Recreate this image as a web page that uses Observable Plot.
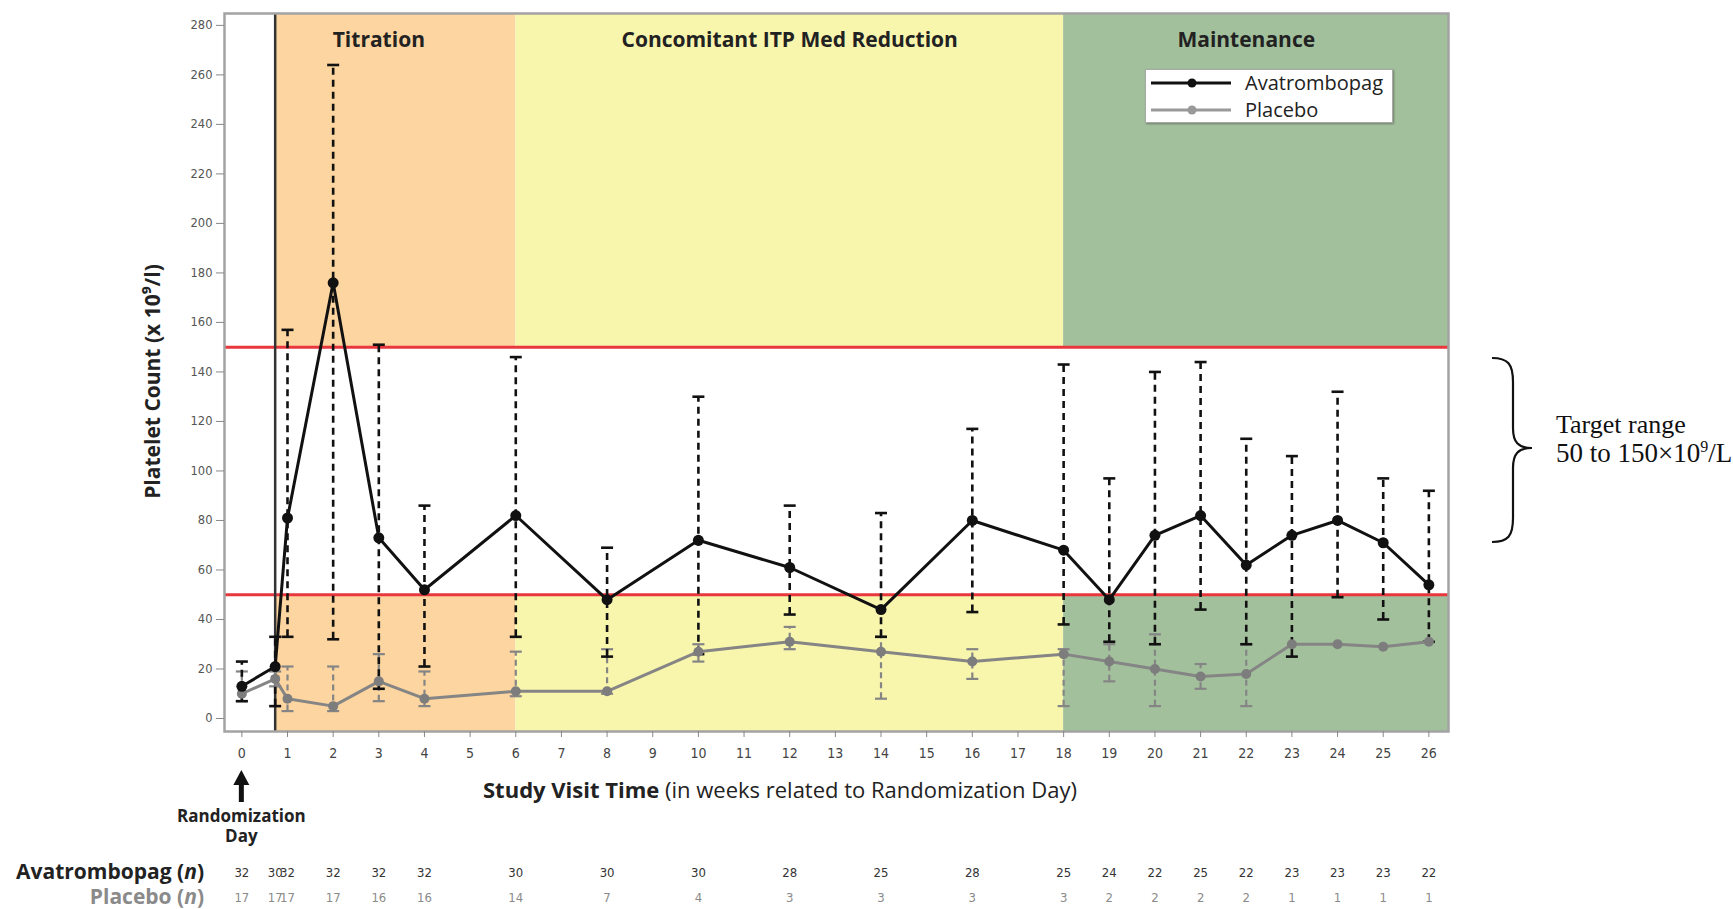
<!DOCTYPE html>
<html>
<head>
<meta charset="utf-8">
<script src="https://cdn.jsdelivr.net/npm/d3@7"></script>
<script src="https://cdn.jsdelivr.net/npm/@observablehq/plot@0.6"></script>
<style>
  body { margin: 0; background: #fff; }
  #wrap { position: relative; width: 1733px; height: 909px; overflow: hidden; font-family: "Open Sans", sans-serif; }
  #wrap > svg { position: absolute; left: 0; top: 0; }
  .abs { position: absolute; white-space: nowrap; }
</style>
</head>
<body>
<div id="wrap"></div>
<script>
// ---- data ----
const weeks      = [0, 0.73, 1, 2, 3, 4, 6, 8, 10, 12, 14, 16, 18, 19, 20, 21, 22, 23, 24, 25, 26];
const avaMedian  = [13, 21, 81, 176, 73, 52, 82, 48, 72, 61, 44, 80, 68, 48, 74, 82, 62, 74, 80, 71, 54];
const avaUpper   = [23, 33, 157, 264, 151, 86, 146, 69, 130, 86, 83, 117, 143, 97, 140, 144, 113, 106, 132, 97, 92];
const avaLower   = [7, 5, 33, 32, 12, 21, 33, 25, 26, 42, 33, 43, 38, 31, 30, 44, 30, 25, 49, 40, 31];
const plaMedian  = [10, 16, 8, 5, 15, 8, 11, 11, 27, 31, 27, 23, 26, 23, 20, 17, 18, 30, 30, 29, 31];
const plaUpper   = [19, 19, 21, 21, 26, 19, 27, 28, 30, 37, 33, 28, 28, 30, 34, 22, 30, 30, 30, 29, 31];
const plaLower   = [7, 13, 3, 3, 7, 5, 9, 10, 23, 28, 8, 16, 5, 15, 5, 12, 5, 30, 30, 29, 31];
const avaN       = [32, 30, 32, 32, 32, 32, 30, 30, 30, 28, 25, 28, 25, 24, 22, 25, 22, 23, 23, 23, 22];
const plaN       = [17, 17, 17, 17, 16, 16, 14, 7, 4, 3, 3, 3, 3, 2, 2, 2, 2, 1, 1, 1, 1];
const xTicks     = [0, 1, 2, 3, 4, 5, 6, 7, 8, 9, 10, 11, 12, 13, 14, 15, 16, 17, 18, 19, 20, 21, 22, 23, 24, 25, 26];
const yTicks     = [0, 20, 40, 60, 80, 100, 120, 140, 160, 180, 200, 220, 240, 260, 280];
const phaseNames  = ["Titration", "Concomitant ITP Med Reduction", "Maintenance"];
const phaseStart  = [0, 6, 18];
const phaseEnd    = [6, 18, 26];
const phaseColors = ["#fdd5a0", "#f8f5ad", "#a3c09c"];
const targetLow = 50, targetHigh = 150;
const seriesNames = ["Avatrombopag", "Placebo"];

// ---- scales / style ----
const xDomain = [-0.38, 26.43];
const yDomain = [-5.25, 284.8];
const avaColor = "#111111", plaColor = "#858585";

const ava = weeks.map((w, i) => ({week: w, median: avaMedian[i], upper: avaUpper[i], lower: avaLower[i], n: avaN[i]}));
const pla = weeks.map((w, i) => ({week: w, median: plaMedian[i], upper: plaUpper[i], lower: plaLower[i], n: plaN[i]}));
const capsOf = (t) => t.flatMap(d => d.upper > d.lower ? [{week: d.week, v: d.upper}, {week: d.week, v: d.lower}] : []);
const barsOf = (t) => t.filter(d => d.upper > d.lower);

const bands = phaseNames.flatMap((name, i) => {
  const x1 = i === 0 ? weeks[1] : phaseStart[i];
  const x2 = i === phaseNames.length - 1 ? xDomain[1] : phaseEnd[i];
  return [
    {x1, x2, y1: yDomain[0], y2: targetLow, fill: phaseColors[i]},
    {x1, x2, y1: targetHigh, y2: yDomain[1], fill: phaseColors[i]}
  ];
});
const phases = phaseNames.map((name, i) => ({name, mid: (phaseStart[i] + phaseEnd[i]) / 2}));

const capSymbol = {
  draw(context, size) {
    const r = Math.sqrt(size / Math.PI);
    context.moveTo(-r, 0);
    context.lineTo(r, 0);
  }
};

const nFont = "'DejaVu Sans Condensed', sans-serif";

const plot = Plot.plot({
  width: 1733,
  height: 909,
  marginLeft: 224,
  marginRight: 285,
  marginTop: 13,
  marginBottom: 178,
  x: {domain: xDomain},
  y: {domain: yDomain},
  color: {type: "identity"},
  style: {fontFamily: "'Open Sans', sans-serif", background: "transparent", overflow: "visible"},
  marks: [
    Plot.rect(bands, {x1: "x1", x2: "x2", y1: "y1", y2: "y2", fill: "fill"}),
    Plot.ruleY([targetLow, targetHigh], {stroke: "#e8373d", strokeWidth: 3}),
    Plot.ruleX([weeks[1]], {stroke: "#333", strokeWidth: 2.5}),
    // placebo error bars
    Plot.ruleX(barsOf(pla), {x: "week", y1: "lower", y2: "upper", stroke: plaColor, strokeWidth: 2.2, strokeDasharray: "6,4"}),
    Plot.dot(capsOf(pla), {x: "week", y: "v", symbol: capSymbol, r: 6, stroke: plaColor, strokeWidth: 2.2, fill: "none"}),
    // avatrombopag error bars
    Plot.ruleX(barsOf(ava), {x: "week", y1: "lower", y2: "upper", stroke: avaColor, strokeWidth: 2.6, strokeDasharray: "7,5"}),
    Plot.dot(capsOf(ava), {x: "week", y: "v", symbol: capSymbol, r: 6, stroke: avaColor, strokeWidth: 2.6, fill: "none"}),
    // lines and points
    Plot.line(pla, {x: "week", y: "median", stroke: plaColor, strokeWidth: 3}),
    Plot.dot(pla, {x: "week", y: "median", r: 5, fill: "#7d7d7d"}),
    Plot.line(ava, {x: "week", y: "median", stroke: avaColor, strokeWidth: 3}),
    Plot.dot(ava, {x: "week", y: "median", r: 5.5, fill: avaColor}),
    Plot.frame({stroke: "#a3a3a3", strokeWidth: 2.5}),
    // axes
    Plot.axisX(xTicks, {tickSize: 6, tickPadding: 11, fontSize: 14, fontFamily: nFont, fill: "#444", stroke: "#888", label: null, tickFormat: d => String(d)}),
    Plot.axisY(yTicks, {tickSize: 8, tickPadding: 4, fontSize: 11.5, fontFamily: "'DejaVu Sans', sans-serif", fill: "#555", stroke: "#888", label: null, tickFormat: d => String(d)}),
    // phase labels
    Plot.text(phases, {x: "mid", text: "name", frameAnchor: "top", dy: 19, fontSize: 21, fontWeight: "bold", fill: "#222"}),
    // y title
    Plot.text(["Platelet Count (x 10\u2079/l)"], {frameAnchor: "left", textAnchor: "middle", dx: -71, dy: 9, rotate: -90, fontSize: 21, fontWeight: "bold", fill: "#222"}),
    // n rows
    Plot.text(ava, {x: "week", text: d => String(d.n), frameAnchor: "bottom", dy: 145, fontSize: 13, fontFamily: nFont, fill: "#333", ariaLabel: "n-ava"}),
    Plot.text(pla, {x: "week", text: d => String(d.n), frameAnchor: "bottom", dy: 170, fontSize: 13, fontFamily: nFont, fill: "#8a8a8a", ariaLabel: "n-pla"})
  ]
});

// tighten the n digits so neighbouring counts (day 1 / week 1) do not collide
d3.select(plot).selectAll('g[aria-label="n-ava"] text, g[aria-label="n-pla"] text').style("letter-spacing", "-1px");

const wrap = document.getElementById("wrap");
wrap.appendChild(plot);
const sx = plot.scale("x");
const x0 = sx.apply(weeks[0]);

// overlay svg: brace, arrow, annotation text
const ns = "http://www.w3.org/2000/svg";
const ov = document.createElementNS(ns, "svg");
ov.setAttribute("width", 1733); ov.setAttribute("height", 909);
ov.style.position = "absolute"; ov.style.left = "0"; ov.style.top = "0";
ov.innerHTML = `
  <path d="M1492,358 C1508,358 1513,364 1513,382 L1513,428 C1513,442 1518,448 1532,448 C1518,448 1513,454 1513,468 L1513,518 C1513,536 1508,542 1492,542" fill="none" stroke="#111" stroke-width="2.2"/>
  <text x="1556" y="433" font-family="'Liberation Serif', serif" font-size="26" fill="#111">Target range</text>
  <text x="1556" y="462" font-family="'Liberation Serif', serif" font-size="27" fill="#111">${targetLow} to ${targetHigh}×10<tspan dy="-10" font-size="16">9</tspan><tspan dy="10">/L</tspan></text>
  <path d="M${x0},770 L${x0 + 8},785 L${x0 + 2.5},785 L${x0 + 2.5},802 L${x0 - 2.5},802 L${x0 - 2.5},785 L${x0 - 8},785 Z" fill="#111"/>
  <text x="${x0}" y="822" text-anchor="middle" font-family="'Open Sans', sans-serif" font-weight="bold" font-size="17" fill="#222">Randomization</text>
  <text x="${x0}" y="842" text-anchor="middle" font-family="'Open Sans', sans-serif" font-weight="bold" font-size="17" fill="#222">Day</text>
  <text x="483" y="798" font-family="'Open Sans', sans-serif" font-size="22" fill="#222"><tspan font-weight="bold">Study Visit Time</tspan> (in weeks related to Randomization Day)</text>
  <text x="204" y="879" text-anchor="end" font-family="'Open Sans', sans-serif" font-weight="bold" font-size="21" fill="#222">${seriesNames[0]} (<tspan font-style="italic">n</tspan>)</text>
  <text x="204" y="904" text-anchor="end" font-family="'Open Sans', sans-serif" font-weight="bold" font-size="21" fill="#8a8a8a">${seriesNames[1]} (<tspan font-style="italic">n</tspan>)</text>
`;
wrap.appendChild(ov);

// legend
const legend = document.createElement("div");
legend.className = "abs";
legend.style.cssText = "left:1145px;top:69px;width:246px;height:52px;background:#fff;border:1.5px solid #a8a8a8;box-shadow:1px 1px 2px rgba(0,0,0,0.35);";
const legColors = [avaColor, "#999"];
legend.innerHTML = seriesNames.map((name, i) => `
  <div style="position:absolute;left:4px;top:${i === 0 ? 4 : 31}px;height:18px;display:flex;align-items:center;">
    <svg width="82" height="18"><line x1="1" x2="81" y1="9" y2="9" stroke="${legColors[i]}" stroke-width="3"/><circle cx="42" cy="9" r="4.5" fill="${legColors[i]}"/></svg>
    <span style="margin-left:13px;font-size:20px;color:#222;line-height:18px;">${name}</span>
  </div>`).join("");
wrap.appendChild(legend);
</script>
</body>
</html>
